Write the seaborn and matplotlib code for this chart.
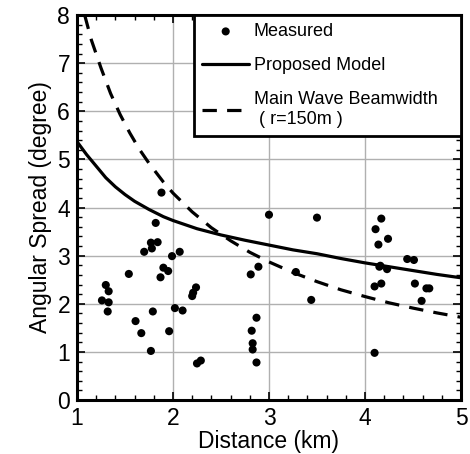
import matplotlib
matplotlib.use("Agg")
import matplotlib.pyplot as plt
import seaborn as sns
import pandas as pd
from matplotlib.ticker import MultipleLocator

# measured angular spread vs distance
dist_measured = [1.26, 1.30, 1.33, 1.33, 1.32, 1.54, 1.61, 1.67, 1.77, 1.79,
                 1.70, 1.77, 1.78, 1.84, 1.82, 1.88, 1.87, 1.90, 1.95, 1.96,
                 1.99, 2.02, 2.07, 2.10, 2.20, 2.21, 2.24, 2.25, 2.29,
                 2.81, 2.89, 2.82, 2.83, 2.83, 2.87, 2.87,
                 3.00, 3.28, 3.44, 3.50,
                 4.10, 4.11, 4.17, 4.14, 4.24, 4.15, 4.16, 4.23, 4.10, 4.17,
                 4.44, 4.51, 4.52, 4.59, 4.64, 4.67]
spread_measured = [2.07, 2.39, 2.26, 2.03, 1.84, 2.62, 1.64, 1.39, 1.02, 1.84,
                   3.08, 3.27, 3.15, 3.28, 3.68, 4.31, 2.55, 2.75, 2.68, 1.43,
                   2.99, 1.91, 3.08, 1.86, 2.16, 2.23, 2.34, 0.76, 0.82,
                   2.61, 2.77, 1.44, 1.18, 1.05, 1.71, 0.78,
                   3.85, 2.66, 2.08, 3.79,
                   0.98, 3.55, 3.77, 3.23, 3.35, 2.77, 2.79, 2.72, 2.36, 2.42,
                   2.93, 2.91, 2.42, 2.06, 2.32, 2.32]

# proposed model curve
model_dist = [1.00, 1.10, 1.20, 1.30, 1.40, 1.50, 1.60, 1.75, 1.90, 2.00, 2.25,
              2.50, 2.75, 3.00, 3.25, 3.50, 3.75, 4.00, 4.25, 4.50, 4.75, 5.00]
model_spread = [5.37, 5.10, 4.86, 4.62, 4.43, 4.27, 4.13, 3.96, 3.81, 3.73, 3.56,
                3.43, 3.32, 3.22, 3.12, 3.04, 2.94, 2.85, 2.77, 2.69, 2.61, 2.54]

# main wave beamwidth (r=150m)
beam_dist = [1.08, 1.15, 1.25, 1.35, 1.45, 1.55, 1.65, 1.75, 1.90, 2.00, 2.20,
             2.40, 2.60, 2.80, 3.00, 3.25, 3.50, 3.75, 4.00, 4.25, 4.50, 4.75, 5.00]
beam_spread = [8.00, 7.48, 6.90, 6.37, 5.93, 5.55, 5.21, 4.92, 4.53, 4.30, 3.91,
               3.58, 3.31, 3.07, 2.87, 2.65, 2.46, 2.29, 2.15, 2.02, 1.91, 1.81, 1.72]

df = pd.DataFrame({"dist": dist_measured, "spread": spread_measured})

sns.set_style("ticks")
plt.rcParams['font.family'] = ['Liberation Sans', 'DejaVu Sans']
plt.rcParams['text.color'] = 'black'
plt.rcParams['axes.labelcolor'] = 'black'

fig = plt.figure(figsize=(4.7, 4.54), dpi=100)
ax = fig.add_axes([0.1638, 0.1189, 0.8170, 0.848])

sns.scatterplot(data=df, x="dist", y="spread", color="black", s=34,
                edgecolor="none", label="Measured", ax=ax, zorder=3)
sns.lineplot(x=model_dist, y=model_spread, color="black", lw=2.3, sort=False,
             label="Proposed Model", ax=ax)
sns.lineplot(x=beam_dist, y=beam_spread, color="black", lw=2.3, sort=False,
             linestyle=(0, (4.5, 3.2)),
             label="Main Wave Beamwidth\n ( r=150m )", ax=ax)

ax.set_xlim(1, 5)
ax.set_ylim(0, 8)
ax.xaxis.set_major_locator(MultipleLocator(1))
ax.xaxis.set_minor_locator(MultipleLocator(0.2))
ax.yaxis.set_major_locator(MultipleLocator(1))
ax.yaxis.set_minor_locator(MultipleLocator(0.2))
ax.grid(True, which="major", color="#b0b0b0", lw=1)
ax.set_axisbelow(True)

ax.tick_params(which="both", direction="in", top=True, right=True,
               colors="black", labelcolor="black")
ax.tick_params(which="major", length=6, width=1.2, labelsize=16.5, pad=5)
ax.tick_params(which="minor", length=3.5, width=1)
for sp in ax.spines.values():
    sp.set_linewidth(2.2)
    sp.set_color("black")

ax.set_xlabel("Distance (km)", fontsize=16.5, labelpad=0, color="black")
ax.set_ylabel("Angular Spread (degree)", fontsize=16.5, labelpad=4, color="black")

leg = ax.legend(loc="upper right", bbox_to_anchor=(0.305, 0, 0.695, 1),
                mode="expand", borderaxespad=0, fontsize=13, frameon=True,
                fancybox=False, framealpha=1, edgecolor="black",
                handlelength=2.6, handletextpad=0.25, labelspacing=0.95,
                borderpad=0.45)
leg.get_frame().set_linewidth(2)
for t in leg.get_texts():
    t.set_color("black")

fig.savefig("out.png", dpi=100)
